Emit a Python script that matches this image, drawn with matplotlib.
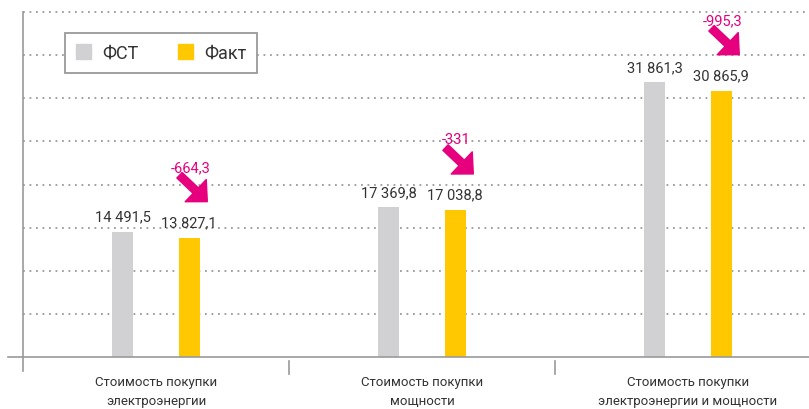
import matplotlib; matplotlib.use("Agg")
import matplotlib.pyplot as plt
from matplotlib.patches import Patch
from matplotlib.transforms import offset_copy

plt.rcParams['font.family'] = ['Roboto', 'DejaVu Sans']

GRAY, YELLOW, PINK, TXT, AX = "#D1D1D3", "#FFC800", "#E6007E", "#333333", "#9A9A9A"

categories = ["Стоимость покупки\nэлектроэнергии", "Стоимость покупки\nмощности",
              "Стоимость покупки\nэлектроэнергии и мощности"]
fst = [14491.5, 17369.8, 31861.3]
fact = [13827.1, 17038.8, 30865.9]
deltas = ["-664,3", "-331", "-995,3"]
yticks = [0, 5000, 10000, 15000, 20000, 25000, 30000, 35000, 40000]

def fmt(v):
    s = f"{v:,.1f}"
    return s.replace(",", " ").replace(".", ",")

fig = plt.figure(figsize=(8.09, 4.10), dpi=100)
ax = fig.add_axes([23/809, 52/410, 786/809, 345/410])
ax.set_xlim(-0.5, 2.455); ax.set_ylim(0, 40000)

for s in ["top", "right", "bottom"]: ax.spines[s].set_visible(False)
ax.spines["left"].set_color(AX); ax.spines["left"].set_linewidth(1.2)
ax.spines["left"].set_bounds(0, 40000)
ax.set_xticks([]); ax.set_yticks([])

for t in yticks[1:]:
    ax.plot([-0.5, 2.455], [t, t], color=AX, lw=1.3, ls=(0, (1, 2.6)), zorder=1, clip_on=False)
ax.plot([-0.557, 2.455], [0, 0], color=AX, lw=1.2, clip_on=False, zorder=3)
xt = ax.get_xaxis_transform()
ax.plot([-0.5, -0.5], [0, -0.041], color=AX, lw=1.2, transform=xt, clip_on=False)
for sx in [0.5, 1.5]:
    ax.plot([sx, sx], [-0.012, -0.049], color=AX, lw=1.2, transform=xt, clip_on=False)

w, off = 0.08, 0.125
xs = range(len(categories))
xg = [x - off for x in xs]; xf = [x + off for x in xs]
ax.bar(xg, fst, width=w, color=GRAY, zorder=2)
ax.bar(xf, fact, width=w, color=YELLOW, zorder=2)

for x, v in zip(xg + xf, fst + fact):
    ax.annotate(fmt(v), (x, v), xytext=(0, 6), textcoords="offset points",
                ha="center", va="bottom", fontsize=10.5, color=TXT)

for x, v, d in zip(xf, fact, deltas):
    ax.annotate(d, (x, v), xytext=(1, 51), textcoords="offset points",
                ha="center", va="center", fontsize=10.5, color=PINK)
    tip = offset_copy(ax.transData, fig=fig, x=13, y=26, units="points")
    ax.annotate("", xy=(x, v), xycoords=tip, xytext=(-20, 19), textcoords="offset points",
                arrowprops=dict(arrowstyle="simple,head_length=1.15,head_width=2.2,tail_width=0.55",
                                mutation_scale=10, color=PINK, shrinkA=0, shrinkB=0))

for x, c in zip(xs, categories):
    ax.text(x, -0.052, c, transform=xt, ha="center", va="top", fontsize=9.5,
            color=TXT, linespacing=1.65)

leg = ax.legend(handles=[Patch(color=GRAY, label="ФСТ"), Patch(color=YELLOW, label="Факт")],
                loc="upper left", bbox_to_anchor=(42/786, 1 - 21/345), ncol=2, fontsize=13,
                handlelength=0.85, handleheight=0.85, handletextpad=0.6, columnspacing=2.2,
                fancybox=False, framealpha=1, borderpad=0.6, borderaxespad=0, labelcolor=TXT)
leg.get_frame().set_edgecolor(AX); leg.get_frame().set_linewidth(1.3)

fig.savefig("out.png", dpi=100)
